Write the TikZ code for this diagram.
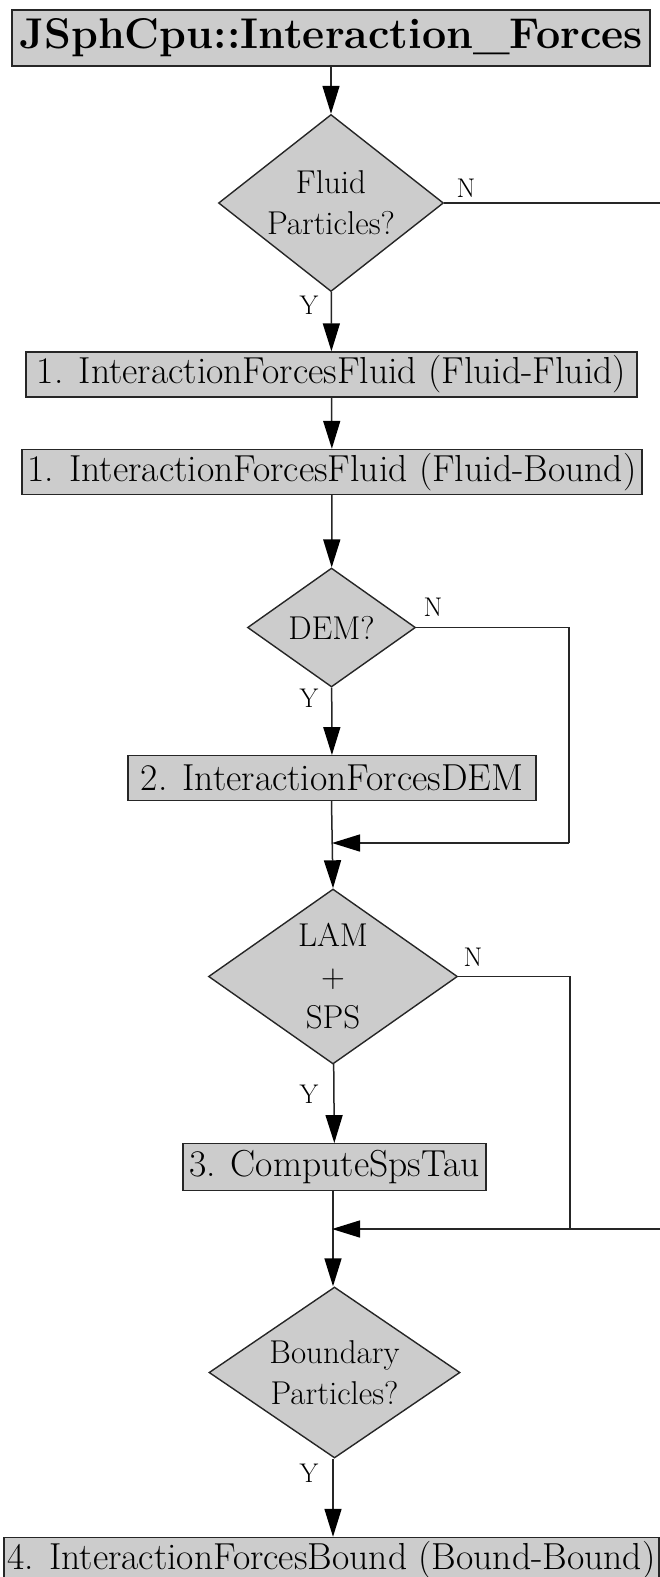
\documentclass[tikz,border=0pt]{standalone}
\usepackage{fontspec}
\usetikzlibrary{shapes.geometric,arrows.meta}
\definecolor{boxfill}{HTML}{CCCCCC}
\definecolor{edge}{HTML}{262626}
\tikzset{
  stepbox/.style={draw=edge, fill=boxfill, line width=1.4pt, inner sep=0pt,
    minimum height=45pt, font=\fontsize{37.6}{44}\selectfont},
  titlebox/.style={stepbox, minimum height=56pt, font=\bfseries\fontsize{43}{50}\selectfont},
  decision/.style={diamond, draw=edge, fill=boxfill, line width=1.4pt, inner sep=0pt,
    align=center, font=\fontsize{33}{41}\selectfont},
  flow/.style={draw=edge, line width=1.5pt},
  arr/.style={flow, -{Triangle[length=28pt,width=17pt,color=black]}},
  lbl/.style={font=\fontsize{27}{30}\selectfont, inner sep=0pt}
}
\begin{document}
\begin{tikzpicture}[x=1pt,y=-1pt]
\useasboundingbox (0,0) rectangle (660,1577);

% main column
\node[titlebox, minimum width=638pt] (title) at (331,38) {JSphCpu::Interaction\_Forces};
\node[decision, aspect=1.27, minimum width=225pt, minimum height=177pt] (fluid) at (331,203) {Fluid\\Particles?};
\node[stepbox, minimum width=611pt] (ff) at (331.5,374.5) {1. InteractionForcesFluid (Fluid-Fluid)};
\node[stepbox, minimum width=620pt] (fb) at (332,472) {1. InteractionForcesFluid (Fluid-Bound)};
\node[decision, aspect=1.41, minimum width=168pt, minimum height=119pt] (dem) at (331.5,627.5) {DEM?};
\node[stepbox, minimum width=408pt, minimum height=44.5pt] (demf) at (332,778) {2. InteractionForcesDEM};
\node[decision, aspect=1.42, minimum width=249pt, minimum height=175pt] (lam) at (333,976.5) {LAM\\+\\SPS};
\node[stepbox, minimum width=303pt, minimum height=46.5pt] (sps) at (334.5,1167) {3. ComputeSpsTau};
\node[decision, aspect=1.47, minimum width=251pt, minimum height=171pt] (bnd) at (334.5,1372.5) {Boundary\\Particles?};
\node[stepbox, minimum width=655pt] (bb) at (331.5,1560) {4. InteractionForcesBound (Bound-Bound)};

% junction points and loop corners
\coordinate (j1) at (332,843);
\coordinate (j2) at (332,1229);
\coordinate (demc1) at (569,627.5);
\coordinate (demc2) at (569,843);
\coordinate (lamc1) at (570,976.5);
\coordinate (lamc2) at (570,1229);
\coordinate (fluidout) at (661,203);
\coordinate (fluidin) at (661,1229);

% vertical flow
\draw[arr] (title) -- (fluid);
\draw[arr] (fluid) -- (ff);
\draw[arr] (ff) -- (fb);
\draw[arr] (fb) -- (dem);
\draw[arr] (dem) -- (demf);
\draw[arr] (demf.south -| dem.south) -- (lam.north);
\draw[arr] (lam) -- (sps);
\draw[arr] (sps.south -| lam.south) -- (bnd.north -| lam.south);
\draw[arr] (bnd.south -| lam.south) -- (bb.north -| lam.south);

% bypass branches
\draw[flow] (fluid.east) -- (fluidout);
\draw[flow] (dem.east) -- (demc1) -- (demc2);
\draw[arr] (demc2) -- (j1);
\draw[flow] (lam.east) -- (lamc1) -- (lamc2);
\draw[arr] (fluidin) -- (j2);

% branch labels
\node[lbl] (n1) at (466,188) {N};
\node[lbl] (y1) at (309,305) {Y};
\node[lbl] (n2) at (433,607) {N};
\node[lbl] (y2) at (309,698) {Y};
\node[lbl] (n3) at (473,957) {N};
\node[lbl] (y3) at (309,1094) {Y};
\node[lbl] (y4) at (309,1473) {Y};
\end{tikzpicture}
\end{document}
